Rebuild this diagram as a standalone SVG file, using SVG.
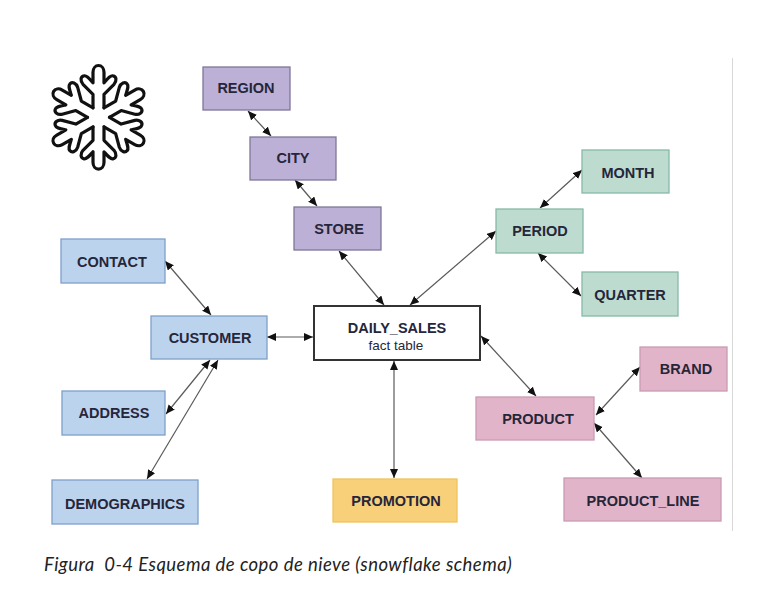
<svg xmlns="http://www.w3.org/2000/svg" xmlns:xlink="http://www.w3.org/1999/xlink" width="763" height="590" viewBox="0 0 763 590">
<style>
.n{stroke-width:1.3}
.p{fill:#bcb0d6;stroke:#7f7799}
.b{fill:#bcd3ee;stroke:#7f9fca}
.g{fill:#bddccf;stroke:#86bba6}
.k{fill:#e2b4c9;stroke:#c99ab2}
.y{fill:#f8d07a;stroke:#efc45c}
text{font-family:"Liberation Sans",Arial,sans-serif;font-weight:bold;font-size:14.5px;fill:#26263a;text-anchor:middle}
.c line{stroke:#5a5a5a;stroke-width:1.2;marker-start:url(#a);marker-end:url(#a)}
.arm{fill:#fff;stroke:#111;stroke-width:3.2;stroke-linejoin:round;stroke-linecap:round}
</style>
<defs>
<marker id="a" markerUnits="userSpaceOnUse" markerWidth="10" markerHeight="9" refX="9" refY="4" orient="auto-start-reverse"><path d="M0 0L9 4L0 8Z" fill="#111"/></marker>
<path id="arm" class="arm" d="M5.500 -9.500L5.500 -23L15.500 -33C18.500 -36.500 18 -41 14.500 -41.500C12 -42 10 -39.500 5.500 -34.500L5.500 -45C5.500 -49 3 -51.800 0 -51.800C-3 -51.800 -5.500 -49 -5.500 -45L-5.500 -34.500C-10 -39.500 -12 -42 -14.500 -41.500C-18 -41 -18.500 -36.500 -15.500 -33L-5.500 -23L-5.500 -9.500"/>
</defs>
<rect width="763" height="590" fill="#fff"/>
<line x1="732.500" y1="58" x2="732.500" y2="531" stroke="#d8d8d8"/>
<g id="snowflake" transform="translate(98.500 117.300)">
<use xlink:href="#arm" href="#arm"/>
<use xlink:href="#arm" href="#arm" transform="rotate(60)"/>
<use xlink:href="#arm" href="#arm" transform="rotate(120)"/>
<use xlink:href="#arm" href="#arm" transform="rotate(180)"/>
<use xlink:href="#arm" href="#arm" transform="rotate(240)"/>
<use xlink:href="#arm" href="#arm" transform="rotate(300)"/>
</g>
<g id="connectors" class="c">
<line x1="248" y1="111" x2="271" y2="136"/>
<line x1="295" y1="180" x2="317" y2="206"/>
<line x1="339" y1="251" x2="384" y2="305"/>
<line x1="496" y1="231" x2="410" y2="305"/>
<line x1="540" y1="208" x2="582" y2="170"/>
<line x1="538" y1="253" x2="581" y2="296"/>
<line x1="165" y1="261" x2="211" y2="315"/>
<line x1="267" y1="337" x2="313" y2="337"/>
<line x1="166" y1="414" x2="210" y2="360"/>
<line x1="147" y1="479" x2="218" y2="360"/>
<line x1="394" y1="478" x2="394" y2="361"/>
<line x1="536" y1="396" x2="481" y2="336"/>
<line x1="596" y1="415" x2="640" y2="367"/>
<line x1="594" y1="423" x2="642" y2="478"/>
</g>
<g id="region"><rect class="n p" x="203" y="67" width="87" height="43"/><text x="246" y="93">REGION</text></g>
<g id="city"><rect class="n p" x="250" y="137" width="86" height="43"/><text x="293" y="163">CITY</text></g>
<g id="store"><rect class="n p" x="294" y="207" width="87" height="43"/><text x="339" y="234">STORE</text></g>
<g id="contact"><rect class="n b" x="61" y="239" width="104" height="44"/><text x="112" y="267">CONTACT</text></g>
<g id="customer"><rect class="n b" x="151" y="316" width="116" height="43"/><text x="210" y="343">CUSTOMER</text></g>
<g id="address"><rect class="n b" x="62" y="391" width="103" height="44"/><text x="114" y="418">ADDRESS</text></g>
<g id="demographics"><rect class="n b" x="52" y="480" width="146" height="44"/><text x="125" y="509">DEMOGRAPHICS</text></g>
<g id="daily_sales"><rect x="314" y="306" width="166" height="54" fill="#fff" stroke="#333" stroke-width="2"/><text x="397" y="333">DAILY_SALES</text><text x="396" y="350" style="font-weight:normal;font-size:13.500px">fact table</text></g>
<g id="promotion"><rect class="n y" x="333" y="479" width="124" height="43"/><text x="396" y="506">PROMOTION</text></g>
<g id="period"><rect class="n g" x="496" y="209" width="87" height="44"/><text x="540" y="236">PERIOD</text></g>
<g id="month"><rect class="n g" x="582" y="150" width="87" height="43"/><text x="628" y="178">MONTH</text></g>
<g id="quarter"><rect class="n g" x="582" y="272" width="96" height="44"/><text x="630" y="300">QUARTER</text></g>
<g id="brand"><rect class="n k" x="640" y="347" width="87" height="44"/><text x="686" y="374">BRAND</text></g>
<g id="product"><rect class="n k" x="476" y="397" width="118" height="43"/><text x="538" y="424">PRODUCT</text></g>
<g id="product_line"><rect class="n k" x="564" y="478" width="157" height="43"/><text x="643" y="506">PRODUCT_LINE</text></g>
<text x="44" y="571" style="font-family:Lato,sans-serif;font-style:italic;font-weight:normal;font-size:18.500px;letter-spacing:.45px;white-space:pre;fill:#222;text-anchor:start">Figura  0-4 Esquema de copo de nieve (snowflake schema)</text>
</svg>
